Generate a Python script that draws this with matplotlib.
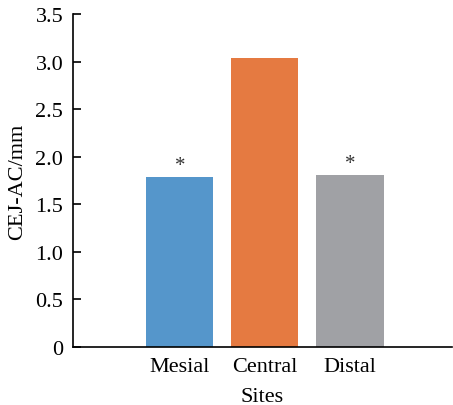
import numpy as np
from matplotlib import pyplot as plt

sites = ["Mesial", "Central", "Distal"]
values = [1.79, 3.04, 1.81]
colors = ["#5596cb", "#e57a41", "#a0a1a5"]
marks = ["*", "", "*"]
yticks = [0, 0.5, 1.0, 1.5, 2.0, 2.5, 3.0, 3.5]
ylabels = ["0", "0.5", "1.0", "1.5", "2.0", "2.5", "3.0", "3.5"]

plt.rcParams["font.family"] = ["Liberation Serif", "DejaVu Serif"]

fig = plt.figure(figsize=(4.53, 4.06), dpi=100)
ax = fig.add_axes([0.161, 0.143, 0.837, 0.82])

x = np.arange(len(sites))
ax.bar(x, values, width=0.79, color=colors)
for xi, v, m in zip(x, values, marks):
    if m:
        ax.annotate(m, (xi, v), xytext=(0, 1), textcoords="offset points",
                    ha="center", va="bottom", fontsize=15, color="#333333")

ax.set_xlim(-1.255, 3.2)
ax.set_ylim(0, 3.5)
ax.set_yticks(yticks)
ax.set_yticklabels(ylabels)
ax.set_xticks(x)
ax.set_xticklabels(sites)
ax.tick_params(axis="y", direction="in", length=6, width=1.2, labelsize=16, pad=7)
ax.tick_params(axis="x", length=0, labelsize=16, pad=7)
ax.spines["top"].set_visible(False)
ax.spines["right"].set_visible(False)
ax.spines["left"].set_linewidth(1.2)
ax.spines["bottom"].set_linewidth(1.2)
ax.set_xlabel("Sites", fontsize=16, labelpad=8)
ax.set_ylabel("CEJ-AC/mm", fontsize=16, labelpad=6)

fig.savefig("out.png", dpi=100)
